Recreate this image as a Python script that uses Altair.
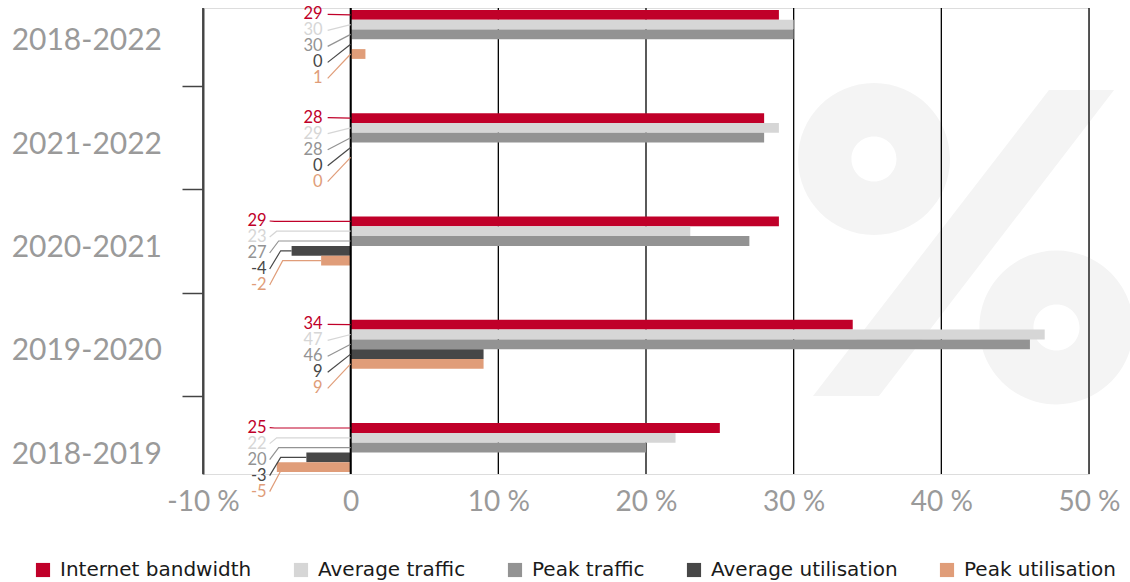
import altair as alt
import pandas as pd

# ---------------- data ----------------
periods = ["2018-2022", "2021-2022", "2020-2021", "2019-2020", "2018-2019"]
series = ["Internet bandwidth", "Average traffic", "Peak traffic",
          "Average utilisation", "Peak utilisation"]
internet_bandwidth = [29, 28, 29, 34, 25]
average_traffic = [30, 29, 23, 47, 22]
peak_traffic = [30, 28, 27, 46, 20]
average_utilisation = [0, 0, -4, 9, -3]
peak_utilisation = [1, 0, -2, 9, -5]
x_ticks = [-10, 0, 10, 20, 30, 40, 50]
colors = ["#c00029", "#d6d6d6", "#939393", "#474747", "#e09d79"]

values_by_series = [internet_bandwidth, average_traffic, peak_traffic,
                    average_utilisation, peak_utilisation]

# ---------------- layout constants ----------------
W, H = 886, 466
X_MIN, X_MAX = -10, 50
PXX = (X_MAX - X_MIN) / W          # data units per pixel (x)
BAND = 103.3                       # pixels per period group
PXY = 1 / BAND                     # data units per pixel (y)
half = H / BAND / 2
Y_DOM = [2 - half, 2 + half]
BAR = 9.8                          # bar thickness px
FONT = "Lato"
LEGEND_FONT = "DejaVu Sans"

bars, lines, labels = [], [], []
for g, p in enumerate(periods):
    vals = [s[g] for s in values_by_series]
    neg = min(vals) < 0
    label_x = (-84 if neg else -28) * PXX
    start = label_x + (3 if neg else 5) * PXX
    for i, (name, v) in enumerate(zip(series, vals)):
        y0 = g + (i - 2.5) * BAR * PXY
        yc = g + (i - 2) * BAR * PXY
        ly = g + (-20 + 16 * i) * PXY
        bars.append(dict(series=name, value=v, base=0, y0=y0, y1=y0 + BAR * PXY))
        labels.append(dict(series=name, lx=label_x, ly=ly, text=str(v)))
        if neg:
            mid = start + (5 + 2 * i) * PXX
            end = min(0, v)
        else:
            mid = 0
            end = 0
        key = f"{g}-{i}"
        for k, (xx, yy) in enumerate([(start, ly), (mid, yc), (end, yc)]):
            lines.append(dict(series=name, key=key, pt=k, lx=xx, ly=yy))

bars_df = pd.DataFrame(bars)
lines_df = pd.DataFrame(lines)
labels_df = pd.DataFrame(labels)
periods_df = pd.DataFrame({"period": periods, "g": list(range(len(periods)))})
ticks_df = pd.DataFrame({"tick": x_ticks})

xscale = alt.Scale(domain=[X_MIN, X_MAX], nice=False, zero=False)
yscale = alt.Scale(domain=Y_DOM, reverse=True, nice=False, zero=False)
xaxis = alt.Axis(values=x_ticks, labelExpr="datum.value == 0 ? '0' : datum.value + ' %'",
                 grid=False, ticks=False, domain=False, labelFontSize=28,
                 labelColor="#9a9a9a", labelFont=FONT, labelPadding=14, title=None,
                 labelFlush=False, labelOverlap=False, labelBound=False)
yaxis = alt.Axis(values=[0.5, 1.5, 2.5, 3.5], labels=False, grid=False, tickSize=21,
                 tickColor="#444444", tickWidth=1.5, domainColor="#444444",
                 domainWidth=2, title=None, zindex=1)


def X(field, **kw):
    return alt.X(field, type="quantitative", scale=xscale, axis=xaxis, **kw)


def Y(field, **kw):
    return alt.Y(field, type="quantitative", scale=yscale, axis=yaxis, **kw)


# decorative watermark "%" (custom symbol path in unit coordinates)
def ring(cx, cy, R, r):
    outer = (f"M{cx+R:.3f},{cy:.3f} A{R:.3f},{R:.3f} 0 1 1 {cx-R:.3f},{cy:.3f} "
             f"A{R:.3f},{R:.3f} 0 1 1 {cx+R:.3f},{cy:.3f} Z ")
    inner = (f"M{cx+r:.3f},{cy:.3f} A{r:.3f},{r:.3f} 0 1 0 {cx-r:.3f},{cy:.3f} "
             f"A{r:.3f},{r:.3f} 0 1 0 {cx+r:.3f},{cy:.3f} Z ")
    return outer + inner


S = 170.0
pct_path = (ring((874 - 965.5) / S, (159 - 243.5) / S, 76 / S, 22.5 / S)
            + ring((1056.5 - 965.5) / S, (327.5 - 243.5) / S, 77 / S, 23 / S)
            + f"M{(1049-965.5)/S:.3f},{(90-243.5)/S:.3f} L{(1114-965.5)/S:.3f},{(90-243.5)/S:.3f} "
              f"L{(879-965.5)/S:.3f},{(396-243.5)/S:.3f} L{(813-965.5)/S:.3f},{(396-243.5)/S:.3f} Z")

watermark = alt.Chart(pd.DataFrame({"a": [0]})).mark_point(
    shape=pct_path, size=(2 * S) ** 2, filled=True, fill="#f4f4f4",
    opacity=1, strokeWidth=0
).encode(x=alt.value(965.5 - 203), y=alt.value(243.5 - 8))

grid = alt.Chart(ticks_df).mark_rule(color="#000000", strokeWidth=1.3).encode(
    x=X("tick")
)

bar_layer = alt.Chart(bars_df).mark_bar(size=BAR).encode(
    x=X("value"),
    x2="base:Q",
    y=Y("y0"),
    y2="y1:Q",
    color=alt.Color("series:N", scale=alt.Scale(domain=series, range=colors),
                    legend=alt.Legend(orient="none", direction="horizontal", title=None,
                                      legendX=-170, legendY=552,
                                      symbolType="square", symbolSize=200,
                                      symbolStrokeWidth=0, symbolOpacity=1,
                                      labelFontSize=20, labelFont=LEGEND_FONT,
                                      labelColor="#1a1a1a", labelOffset=7,
                                      columnPadding=39, labelLimit=400)),
)

zero = alt.Chart(pd.DataFrame({"z": [0]})).mark_rule(color="#000000", strokeWidth=2).encode(
    x=X("z")
)

leader = alt.Chart(lines_df).mark_line(strokeWidth=1.2).encode(
    x=X("lx"),
    y=Y("ly"),
    detail="key:N",
    order="pt:Q",
    stroke=alt.Stroke("series:N", scale=alt.Scale(domain=series, range=colors), legend=None),
)

value_text = alt.Chart(labels_df).mark_text(
    align="right", baseline="middle", fontSize=16.5, font=FONT
).encode(
    x=X("lx"),
    y=Y("ly"),
    text="text:N",
    fill=alt.Fill("series:N", scale=alt.Scale(domain=series, range=colors), legend=None),
)

period_text = alt.Chart(periods_df).mark_text(
    align="right", baseline="middle", fontSize=30, font=FONT, color="#9a9a9a", dy=7
).encode(
    x=alt.value(162 - 203),
    y=Y("g"),
    text="period:N",
)

chart = alt.layer(
    watermark, grid, bar_layer, zero, leader, value_text, period_text
).properties(
    width=W, height=H,
    autosize=alt.AutoSizeParams(type="none"),
    padding={"left": 203, "top": 8, "right": 1130 - 203 - W, "bottom": 582 - 8 - H},
).configure_view(stroke=None).configure(background="white")

chart.save("out.html", embed_options={"renderer": "svg", "actions": False})
